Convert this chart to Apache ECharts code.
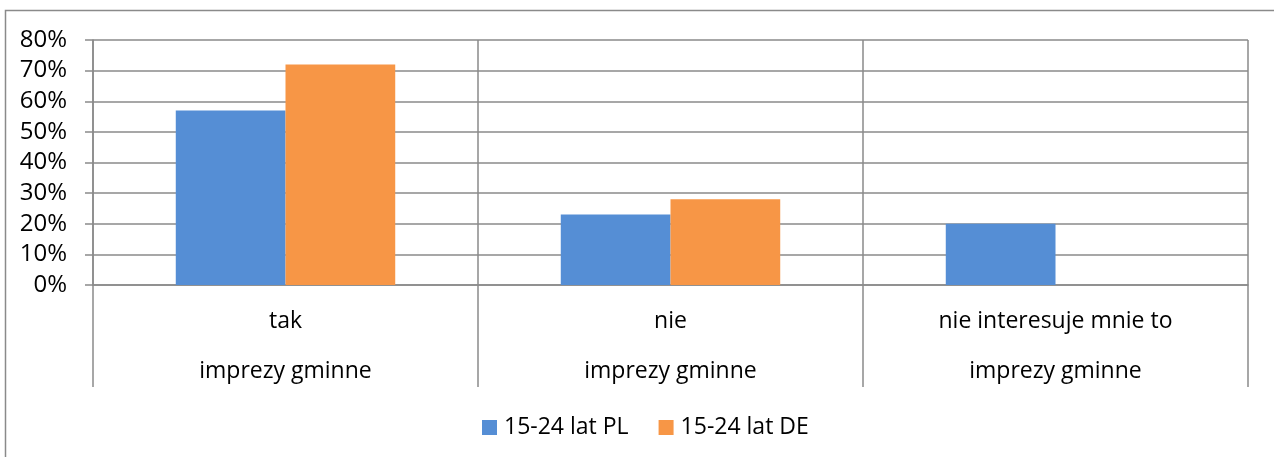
<!DOCTYPE html>
<html><head><meta charset="utf-8">
<script src="https://cdn.jsdelivr.net/npm/echarts@6/dist/echarts.min.js"></script>
<style>html,body{margin:0;padding:0;background:#fff}#c{width:1274px;height:457px}</style>
</head><body><div id="c"></div>
<script>
const categories = ['tak', 'nie', 'nie interesuje mnie to'];
const groupLabel = 'imprezy gminne';
const seriesNames = ['15-24 lat PL', '15-24 lat DE'];
const valuesPL = [0.57, 0.23, 0.20];
const valuesDE = [0.72, 0.28, 0];
const yTicks = [0, 0.1, 0.2, 0.3, 0.4, 0.5, 0.6, 0.7, 0.8];

const FONT = 'Open Sans';
const GRID = '#8a8a8a';
const chart = echarts.init(document.getElementById('c'), null, {renderer: 'canvas'});
chart.setOption({
  animation: false,
  textStyle: {fontFamily: FONT},
  graphic: [{type: 'rect', shape: {x: 5.5, y: 10.5, width: 1400, height: 600}, style: {fill: 'none', stroke: '#8a8a8a', lineWidth: 1.5}, silent: true}],
  grid: {left: 93, right: 26, top: 40, bottom: 172},
  legend: {
    bottom: 13, left: 477,
    itemWidth: 15, itemHeight: 15, itemGap: 30,
    icon: 'rect',
    textStyle: {fontFamily: FONT, fontSize: 23, color: '#000', padding: [0, 0, 0, 2]},
    data: seriesNames
  },
  xAxis: {
    type: 'category',
    data: categories,
    axisLine: {show: true, lineStyle: {color: GRID, width: 1.5}},
    axisTick: {show: true, length: 102, lineStyle: {color: GRID, width: 1.5}},
    splitLine: {show: true, lineStyle: {color: GRID, width: 1.5}},
    axisLabel: {
      margin: 24, fontFamily: FONT, fontSize: 23, color: '#000', lineHeight: 25,
      formatter: v => v + '\n\n' + groupLabel
    }
  },
  yAxis: {
    type: 'value', min: 0, max: 0.8, interval: 0.1,
    axisLine: {show: true, lineStyle: {color: GRID, width: 1.5}},
    axisTick: {show: true, length: 8, lineStyle: {color: GRID, width: 1.5}},
    splitLine: {show: true, lineStyle: {color: GRID, width: 1.5}},
    axisLabel: {
      margin: 26, fontFamily: FONT, fontSize: 24, color: '#000',
      formatter: v => {
        const m = yTicks.find(t => Math.abs(t - v) < 1e-9);
        return m === undefined ? '' : Math.round(m * 100) + '%';
      }
    }
  },
  series: [
    {name: seriesNames[0], type: 'bar', data: valuesPL, barGap: '0%', barCategoryGap: '43%', itemStyle: {color: '#558ED5'}},
    {name: seriesNames[1], type: 'bar', data: valuesDE, barGap: '0%', barCategoryGap: '43%', itemStyle: {color: '#F79646'}}
  ]
});
</script></body></html>
